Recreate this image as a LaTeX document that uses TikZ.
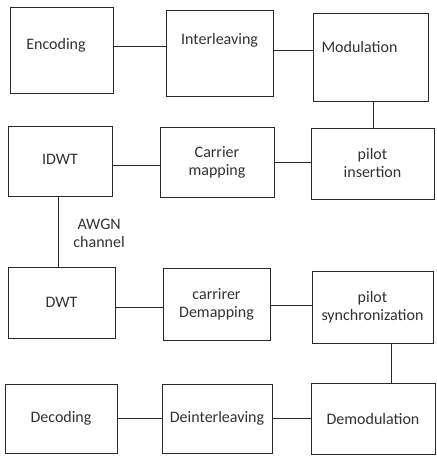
\documentclass[tikz,border=0pt]{standalone}
\usepackage{fontspec}
\setmainfont{Carlito}
\usepackage{tikz}
\usetikzlibrary{positioning,calc}
\usepackage{xcolor}
\definecolor{figline}{RGB}{40,40,40}
\definecolor{figtext}{RGB}{50,50,50}
\tikzset{
  fbox/.style={draw=figline,line width=0.9pt,fill=white,inner sep=0pt,
               align=center,text=figtext,font=\fontsize{16}{18}\selectfont},
  flabel/.style={text=figtext,align=center,inner sep=0pt,
                 font=\fontsize{16}{18}\selectfont},
  fline/.style={figline,line width=0.9pt},
}

\begin{document}
\begin{tikzpicture}[x=1pt,y=-1pt]
    \useasboundingbox (0,0) rectangle (436,462);
    % transmitter chain
    \node[fbox,minimum width=103,minimum height=86,
          label={[flabel,xshift=-5.5,yshift=5]center:Encoding}] (enc) at (61.5,50) {};
    \node[fbox,minimum width=107,minimum height=86,
          label={[flabel,yshift=13]center:Interleaving}] (intl) at (219.5,53) {};
    \node[fbox,minimum width=115,minimum height=88,
          label={[flabel,xshift=-11,yshift=10]center:Modulation}] (mod) at (370.5,57) {};
    \node[fbox,minimum width=104,minimum height=70] (idwt) at (60,161) {\raisebox{3pt}{IDWT}};
    \node[fbox,minimum width=114,minimum height=70] (cmap) at (217,162) {\raisebox{6pt}{\parbox{60pt}{\centering Carrier\\mapping}}};
    \node[fbox,minimum width=123,minimum height=71] (pins) at (372.5,163.5) {\raisebox{4pt}{\parbox{60pt}{\centering pilot\\insertion}}};
    % receiver chain
    \node[fbox,minimum width=107,minimum height=71] (dwt) at (61.5,302.5) {DWT};
    \node[fbox,minimum width=107,minimum height=72] (cdem) at (216.5,304) {carrirer\\Demapping};
    \node[fbox,minimum width=121,minimum height=72] (psync) at (372.5,307) {pilot\\synchronization};
    \node[fbox,minimum width=112,minimum height=69] (dec) at (61,418.5) {Decoding};
    \node[fbox,minimum width=110,minimum height=69] (deint) at (217,418.5) {Deinterleaving};
    \node[fbox,minimum width=124,minimum height=71] (demod) at (373,418.5) {Demodulation};
    % connectors
    \draw[fline] (enc.east |- 0,46) -- (intl.west |- 0,46);
    \draw[fline] (intl.east |- 0,50) -- (mod.west |- 0,50);
    \draw[fline] (mod.south -| 373,0) -- (pins.north -| 373,0);
    \draw[fline] (idwt.east |- 0,165) -- (cmap.west |- 0,165);
    \draw[fline] (cmap.east |- 0,162) -- (pins.west |- 0,162);
    \draw[fline] (idwt.south -| 58,0) -- node[flabel,right=15pt,yshift=-2pt]{AWGN\\channel} (dwt.north -| 58,0);
    \draw[fline] (dwt.east |- 0,307) -- (cdem.west |- 0,307);
    \draw[fline] (cdem.east |- 0,305) -- (psync.west |- 0,305);
    \draw[fline] (psync.south -| 391,0) -- (demod.north -| 391,0);
    \draw[fline] (dec.east |- 0,418) -- (deint.west |- 0,418);
    \draw[fline] (deint.east |- 0,418) -- (demod.west |- 0,418);
\end{tikzpicture}
\end{document}
